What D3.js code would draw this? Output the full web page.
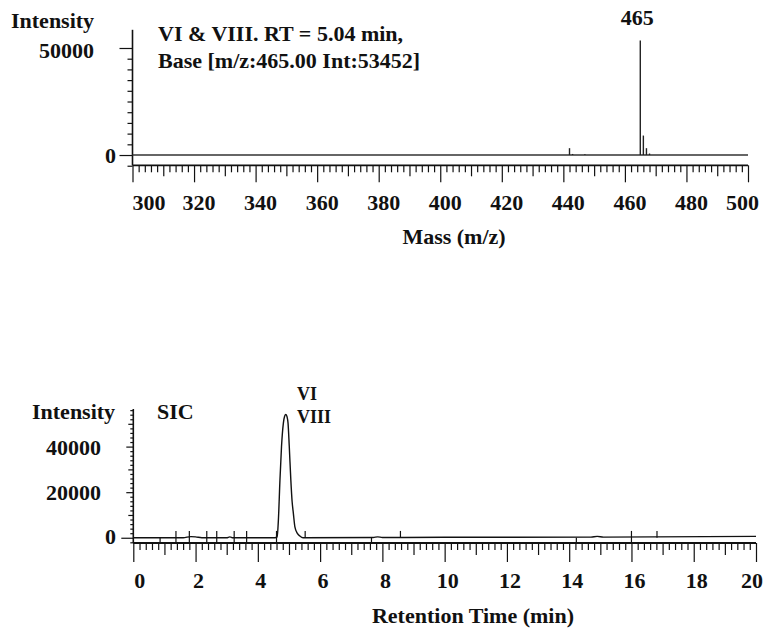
<!DOCTYPE html>
<html>
<head>
<meta charset="utf-8">
<script src="https://cdn.jsdelivr.net/npm/d3@7"></script>
<style>
  body { margin: 0; background: #fff; }
  text { font-family: "Liberation Serif", "Times New Roman", serif; font-weight: bold; fill: #111; }
</style>
</head>
<body>
<div id="chart"></div>
<script>
// Mass spectrum (top panel): peak m/z and intensities
let massPeaks = [442, 443, 447, 465, 466, 467, 468];
let massIntensity = [3200, 500, 400, 53452, 9100, 3200, 700];
let massTicks = [300, 320, 340, 360, 380, 400, 420, 440, 460, 480, 500];

// Selected ion chromatogram (bottom panel)
let sicTime = [0, 1.6, 1.85, 2.0, 2.2, 3.0, 3.1, 3.2, 4.55, 4.62, 4.66, 4.71, 4.76, 4.82, 4.86, 4.9,
  4.94, 4.97, 5.01, 5.06, 5.1, 5.14, 5.19, 5.27, 5.35, 5.45, 7.7, 7.85, 8.0, 10, 14.7, 14.9, 15.1, 20];
let sicIntensity = [0, 0, 500, 400, 0, 0, 400, 0, 0, 400, 7800, 25300, 39900, 50300, 53300, 54100,
  53000, 50300, 39900, 25300, 16000, 10800, 4800, 1900, 750, 0, 100, 400, 100, 200, 300, 600, 300, 600];
let timeTicks = [0, 2, 4, 6, 8, 10, 12, 14, 16, 18, 20];

// integration markers: "up" above baseline, "down" below, "both" through it
let markerTime = [0.86, 1.37, 1.8, 2.36, 2.68, 3.24, 3.64, 4.6, 5.52, 7.65, 8.58, 14.23, 16.0, 16.82];
let markerKind = ["down", "both", "both", "both", "both", "both", "both", "both", "up", "down", "up", "down", "both", "up"];

let svg = d3.select("#chart").append("svg").attr("width", 764).attr("height", 629);

let ink = "#111";

function addTicks(g, axis, values, size, tx, ty) {
  g.append("g")
    .attr("transform", `translate(${tx},${ty})`)
    .call(axis.tickValues(values).tickSize(size).tickSizeOuter(0).tickFormat(""))
    .call((a) => a.select(".domain").remove())
    .call((a) => a.selectAll("line").attr("stroke", ink).attr("stroke-width", 1.2));
}

// ---------------- Top: mass spectrum ----------------
let xMass = d3.scaleLinear().domain([300, 500]).range([132.5, 748]);
let yMS = d3.scaleLinear().domain([-4800, 58500]).range([165.3, 29.8]);
let msPanel = svg.append("g");

// y ticks
addTicks(msPanel, d3.axisLeft(yMS), d3.range(-5000, 50000, 5000).filter((v) => v !== 0), 5, xMass(300), 0);
addTicks(msPanel, d3.axisLeft(yMS), [0, 50000], 13, xMass(300), 0);

// x ticks
let massAll = d3.range(300, 501, 2);
addTicks(msPanel, d3.axisBottom(xMass), massAll.filter((v) => v % 10 !== 0), 7, 0, yMS(-4800));
addTicks(msPanel, d3.axisBottom(xMass), massAll.filter((v) => v % 10 === 0 && v % 20 !== 0), 11, 0, yMS(-4800));
addTicks(msPanel, d3.axisBottom(xMass), massTicks, 17, 0, yMS(-4800));

// axis lines
msPanel.append("line")
  .attr("x1", xMass(300)).attr("x2", xMass(300))
  .attr("y1", yMS(58500)).attr("y2", yMS(-4800))
  .attr("stroke", ink).attr("stroke-width", 1.6);
msPanel.append("line")
  .attr("x1", xMass(300)).attr("x2", xMass(500))
  .attr("y1", yMS(-4800)).attr("y2", yMS(-4800))
  .attr("stroke", ink).attr("stroke-width", 1.8);

// baseline of spectrum
msPanel.append("line")
  .attr("x1", xMass(300)).attr("x2", xMass(500))
  .attr("y1", yMS(0)).attr("y2", yMS(0))
  .attr("stroke", "#333").attr("stroke-width", 1.6);

// peak sticks
msPanel.selectAll(".stick")
  .data(massPeaks)
  .enter()
  .append("line")
  .attr("class", "stick")
  .attr("x1", (d) => xMass(d)).attr("x2", (d) => xMass(d))
  .attr("y1", yMS(0))
  .attr("y2", (d, i) => yMS(massIntensity[i]))
  .attr("stroke", "#222").attr("stroke-width", 1.4);

// tick labels
msPanel.selectAll(".mlab")
  .data(massTicks)
  .enter()
  .append("text")
  .attr("class", "mlab")
  .attr("x", (d, i) => (i === 0 ? xMass(d) : i === massTicks.length - 1 ? xMass(d) + 11 : xMass(d) + 5))
  .attr("y", 210)
  .attr("text-anchor", (d, i) => (i === 0 ? "start" : i === massTicks.length - 1 ? "end" : "middle"))
  .style("font-size", "22px")
  .text((d) => d);

msPanel.append("text").attr("x", 94).attr("y", 58).attr("text-anchor", "end").style("font-size", "22px").text("50000");
msPanel.append("text").attr("x", 116).attr("y", 163).attr("text-anchor", "end").style("font-size", "22px").text("0");
msPanel.append("text").attr("x", 11).attr("y", 28).style("font-size", "22px").text("Intensity");
msPanel.append("text").attr("x", 454).attr("y", 244).attr("text-anchor", "middle").style("font-size", "22px").text("Mass (m/z)");
msPanel.append("text").attr("x", 158).attr("y", 41).style("font-size", "22px").text("VI & VIII. RT = 5.04 min,");
msPanel.append("text").attr("x", 158).attr("y", 68).style("font-size", "22px").text("Base [m/z:465.00 Int:53452]");
msPanel.append("text").attr("x", xMass(465) - 3).attr("y", 25).attr("text-anchor", "middle").style("font-size", "22px").text("465");

// ---------------- Bottom: SIC chromatogram ----------------
let xTime = d3.scaleLinear().domain([0, 20]).range([133.3, 756]);
let ySIC = d3.scaleLinear().domain([-2300, 56500]).range([543, 409]);
let sicPanel = svg.append("g");

let sicAll = d3.range(-2000, 56001, 2000);
addTicks(sicPanel, d3.axisLeft(ySIC), sicAll.filter((v) => v % 10000 !== 0), 3, xTime(0), 0);
addTicks(sicPanel, d3.axisLeft(ySIC), [10000, 30000, 50000], 5, xTime(0), 0);
addTicks(sicPanel, d3.axisLeft(ySIC), [20000, 40000], 7, xTime(0), 0);
addTicks(sicPanel, d3.axisLeft(ySIC), [0], 12, xTime(0), 0);

let timeAll = d3.range(0, 101).map((i) => i / 5);
addTicks(sicPanel, d3.axisBottom(xTime), timeAll.filter((v, i) => i % 5 !== 0), 7, 0, ySIC(-2300));
addTicks(sicPanel, d3.axisBottom(xTime), timeAll.filter((v, i) => i % 5 === 0 && i % 10 !== 0), 12, 0, ySIC(-2300));
addTicks(sicPanel, d3.axisBottom(xTime), timeTicks, 19, 0, ySIC(-2300));

sicPanel.append("line")
  .attr("x1", xTime(0)).attr("x2", xTime(0))
  .attr("y1", ySIC(56500)).attr("y2", ySIC(-2300))
  .attr("stroke", ink).attr("stroke-width", 1.6);
sicPanel.append("line")
  .attr("x1", xTime(0)).attr("x2", xTime(20))
  .attr("y1", ySIC(-2300)).attr("y2", ySIC(-2300))
  .attr("stroke", ink).attr("stroke-width", 1.8);

// chromatogram trace
let sicData = sicTime.map((t, i) => ({ t: t, v: sicIntensity[i] }));
sicPanel.append("path")
  .datum(sicData)
  .attr("fill", "none")
  .attr("stroke", "#111")
  .attr("stroke-width", 1.4)
  .attr("d", d3.line().x((d) => xTime(d.t)).y((d) => ySIC(d.v)).curve(d3.curveMonotoneX));

// integration markers
sicPanel.selectAll(".marker")
  .data(markerTime)
  .enter()
  .append("line")
  .attr("class", "marker")
  .attr("x1", (d) => xTime(d)).attr("x2", (d) => xTime(d))
  .attr("y1", (d, i) => (markerKind[i] === "up" ? ySIC(0) : ySIC(-2300)))
  .attr("y2", (d, i) => (markerKind[i] === "down" ? ySIC(0) : ySIC(3000)))
  .attr("stroke", ink).attr("stroke-width", 1.2);

sicPanel.selectAll(".tlab")
  .data(timeTicks)
  .enter()
  .append("text")
  .attr("class", "tlab")
  .attr("x", (d, i) => (i === 0 ? xTime(d) + 1 : i === timeTicks.length - 1 ? xTime(d) + 7 : xTime(d) + 3))
  .attr("y", 588)
  .attr("text-anchor", (d, i) => (i === 0 ? "start" : i === timeTicks.length - 1 ? "end" : "middle"))
  .style("font-size", "22px")
  .text((d) => d);

sicPanel.append("text").attr("x", 101).attr("y", 455).attr("text-anchor", "end").style("font-size", "22px").text("40000");
sicPanel.append("text").attr("x", 101).attr("y", 500).attr("text-anchor", "end").style("font-size", "22px").text("20000");
sicPanel.append("text").attr("x", 116).attr("y", 544).attr("text-anchor", "end").style("font-size", "22px").text("0");
sicPanel.append("text").attr("x", 32).attr("y", 419).style("font-size", "22px").text("Intensity");
sicPanel.append("text").attr("x", 157).attr("y", 419).style("font-size", "22px").text("SIC");
sicPanel.append("text").attr("x", 297).attr("y", 400).style("font-size", "18px").text("VI");
sicPanel.append("text").attr("x", 297).attr("y", 423).style("font-size", "18px").text("VIII");
sicPanel.append("text").attr("x", 473).attr("y", 623).attr("text-anchor", "middle").style("font-size", "22px").text("Retention Time (min)");
</script>
</body>
</html>
